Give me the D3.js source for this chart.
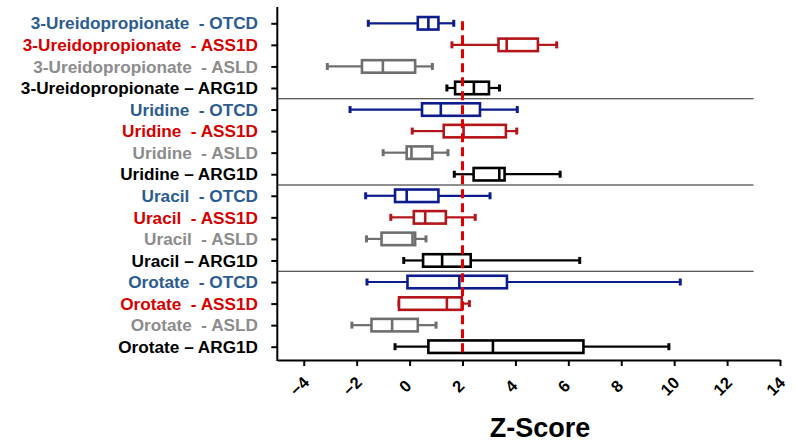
<!DOCTYPE html>
<html>
<head>
<meta charset="utf-8">
<script src="https://cdn.jsdelivr.net/npm/d3@7"></script>
<style>
  html, body { margin: 0; padding: 0; background: #fff; }
  svg { display: block; font-family: "Liberation Sans", Arial, sans-serif; }
</style>
</head>
<body>
<svg id="chart" width="796" height="445"></svg>
<script>
// metabolites x disease groups, one row per pair (top to bottom)
const metabolites = ["3-Ureidopropionate", "Uridine", "Uracil", "Orotate"]
const groups = ["OTCD", "ASS1D", "ASLD", "ARG1D"]

// box plot stats, same row order
const whiskerLow  = [-1.56, 1.60, -3.11, 1.41,  -2.25, 0.10, -1.00, 1.69,  -1.66, -0.71, -1.63, -0.22,  -1.61, -0.40, -2.18, -0.55]
const q1          = [ 0.31, 3.36, -1.80, 1.72,   0.47, 1.29, -0.11, 2.42,  -0.55,  0.16, -1.06,  0.51,  -0.08, -0.40, -1.44,  0.71]
const median      = [ 0.71, 3.67, -1.01, 2.43,   1.18, 2.04,  0.07, 3.39,  -0.11,  0.59,  0.11,  1.23,   1.88,  1.41, -0.66,  3.15]
const q3          = [ 1.09, 4.85,  0.21, 3.00,   2.66, 3.64,  0.86, 3.59,   1.09,  1.37,  0.21,  2.31,   3.68,  1.97,  0.31,  6.57]
const whiskerHigh = [ 1.67, 5.56,  0.86, 3.40,   4.07, 4.05,  1.45, 5.69,   3.04,  2.48,  0.62,  6.43,  10.23,  2.26,  1.00,  9.80]

const xTicks = [-4, -2, 0, 2, 4, 6, 8, 10, 12, 14]
const cutoff = 2

const textColor = { OTCD: "#2b5c8f", ASS1D: "#d40000", ASLD: "#8c8c8c", ARG1D: "#000000" }
const boxColor = { OTCD: "#0c1c8c", ASS1D: "#b3151b", ASLD: "#6e6e6e", ARG1D: "#000000" }

const rows = []
metabolites.forEach((m, i) => {
    groups.forEach((g, j) => {
        const k = i * groups.length + j
        rows.push({
            id: m + "|" + g,
            metabolite: m,
            group: g,
            label: g === "ARG1D" ? m + " \u2013 " + g : m + "  - " + g,
            lo: whiskerLow[k], q1: q1[k], med: median[k], q3: q3[k], hi: whiskerHigh[k]
        })
    })
})

const svg = d3.select("#chart")

const axisLeftX = 277.3
const axisBottomY = 360
const axisTopY = 7

const x = d3.scaleLinear()
    .domain([-5, 14])
    .range([axisLeftX, 780])

const y = d3.scalePoint()
    .domain(rows.map(d => d.id))
    .range([23.3, 346.7])

// group separators
const sepG = svg.append("g")
for (let i = 1; i < metabolites.length; i++) {
    const yy = (y(rows[i * 4 - 1].id) + y(rows[i * 4].id)) / 2
    sepG.append("line")
        .attr("x1", axisLeftX).attr("x2", x(13))
        .attr("y1", yy).attr("y2", yy)
        .attr("stroke", "#222").attr("stroke-width", 1.2)
}

// y axis: ticks only, labels drawn separately so they can be coloured
const yAxis = svg.append("g")
    .attr("transform", "translate(" + axisLeftX + ",0)")
    .call(d3.axisLeft(y).tickSize(6).tickSizeOuter(0).tickFormat(""))
yAxis.select(".domain").remove()
yAxis.selectAll(".tick line").attr("stroke-width", 2)
yAxis.append("line")
    .attr("y1", axisTopY).attr("y2", axisBottomY + 1)
    .attr("stroke", "#000").attr("stroke-width", 2)

svg.append("g")
    .selectAll("text")
    .data(rows)
    .enter()
    .append("text")
    .attr("x", 258)
    .attr("y", d => y(d.id))
    .attr("dy", "0.36em")
    .attr("text-anchor", "end")
    .attr("xml:space", "preserve")
    .style("white-space", "pre")
    .attr("font-size", 17.2)
    .attr("font-weight", "bold")
    .attr("fill", d => textColor[d.group])
    .text(d => d.label)

// x axis
const xAxis = svg.append("g")
    .attr("transform", "translate(0," + axisBottomY + ")")
    .call(d3.axisBottom(x).tickValues(xTicks).tickSize(6).tickSizeOuter(0))
xAxis.select(".domain").attr("stroke-width", 2)
xAxis.selectAll(".tick line").attr("stroke-width", 2)
xAxis.selectAll(".tick text")
    .attr("x", null).attr("y", null).attr("dy", null)
    .attr("text-anchor", "middle")
    .attr("dominant-baseline", "central")
    .attr("transform", "translate(-5,26) rotate(-45)")
    .attr("font-size", 16.5)
    .attr("font-weight", "bold")
    .attr("fill", "#000")

svg.append("text")
    .attr("x", 540)
    .attr("y", 437)
    .attr("text-anchor", "middle")
    .attr("font-size", 27)
    .attr("font-weight", "bold")
    .text("Z-Score")

// box plots
const boxH = 12.5
const capH = 7

const box = svg.append("g")
    .selectAll(".box")
    .data(rows)
    .enter()
    .append("g")
    .attr("class", "box")
    .attr("transform", d => "translate(0," + y(d.id) + ")")

box.append("line")
    .attr("x1", d => x(d.lo)).attr("x2", d => x(d.q1))
    .attr("stroke", d => boxColor[d.group]).attr("stroke-width", 2.2)
box.append("line")
    .attr("x1", d => x(d.q3)).attr("x2", d => x(d.hi))
    .attr("stroke", d => boxColor[d.group]).attr("stroke-width", 2.2)

box.selectAll(".cap")
    .data(d => [d.lo, d.hi].map(v => ({ v: v, group: d.group })))
    .enter()
    .append("line")
    .attr("class", "cap")
    .attr("x1", d => x(d.v)).attr("x2", d => x(d.v))
    .attr("y1", -capH / 2).attr("y2", capH / 2)
    .attr("stroke", d => boxColor[d.group]).attr("stroke-width", 3)

box.append("rect")
    .attr("x", d => x(d.q1))
    .attr("y", -boxH / 2)
    .attr("width", d => x(d.q3) - x(d.q1))
    .attr("height", boxH)
    .attr("fill", "#fff")
    .attr("stroke", d => boxColor[d.group])
    .attr("stroke-width", 2.6)

box.append("line")
    .attr("x1", d => x(d.med)).attr("x2", d => x(d.med))
    .attr("y1", -boxH / 2).attr("y2", boxH / 2)
    .attr("stroke", d => boxColor[d.group]).attr("stroke-width", 2.6)

// cut-off line
svg.append("line")
    .attr("x1", x(cutoff)).attr("x2", x(cutoff))
    .attr("y1", y(rows[0].id) - 2)
    .attr("y2", y(rows[rows.length - 1].id) + 8)
    .attr("stroke", "#e00000")
    .attr("stroke-width", 3)
    .attr("stroke-dasharray", "9,5")
</script>
</body>
</html>
